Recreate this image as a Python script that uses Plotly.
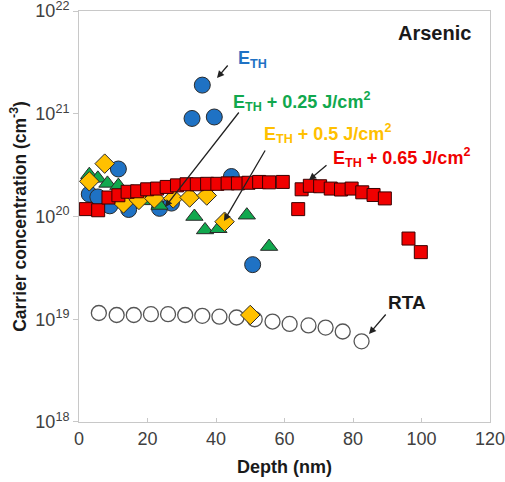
import plotly.graph_objects as go

# ---- data ----
rta_depth = [5.8, 11, 16, 21, 26, 31, 36, 41, 46, 51.3, 56.5, 61.5, 67, 72, 77, 82.5]
rta_conc = [1.15e19, 1.1e19, 1.1e19, 1.12e19, 1.12e19, 1.1e19, 1.08e19, 1.06e19, 1.04e19,
            1.0e19, 0.95e19, 0.9e19, 0.87e19, 0.83e19, 0.76e19, 0.61e19]

eth_depth = [3, 5.5, 9, 11.5, 14.5, 23.5, 27, 33, 36, 39.5, 44.5, 50.7]
eth_conc = [1.65e20, 1.55e20, 1.27e20, 2.9e20, 1.17e20, 1.2e20, 1.35e20, 9.0e20, 1.9e21,
            9.3e20, 2.45e20, 3.4e19]

e025_depth = [3, 5.5, 8.3, 11.5, 19.8, 23.5, 33.7, 36.8, 40.7, 49, 55.5]
e025_conc = [2.55e20, 2.35e20, 2.1e20, 2.0e20, 1.42e20, 1.28e20, 1.0e20, 0.74e20, 0.76e20,
             1.03e20, 0.51e20]

e05_depth = [3, 7.5, 13, 17.5, 22, 27.5, 32.3, 37.3, 42.5, 50]
e05_conc = [2.2e20, 3.27e20, 1.34e20, 1.45e20, 1.5e20, 1.5e20, 1.53e20, 1.6e20, 0.89e20, 1.1e19]

e065_depth = [2, 5.6, 8.6, 11.5, 14.2, 17, 19.9, 22.8, 25.6, 28.6, 31.4, 34.4, 37.4, 40.4,
              43.4, 46.4, 49.5, 52.6, 55.5, 59.5, 64, 65, 67.4, 70.4, 73.5, 76.5, 79.6,
              82.7, 86, 89.3, 96.2, 99.8]
e065_conc = [1.18e20, 1.15e20, 1.53e20, 1.61e20, 1.74e20, 1.76e20, 1.84e20, 1.87e20, 1.94e20,
             2.01e20, 2.06e20, 2.06e20, 2.08e20, 2.08e20, 2.1e20, 2.1e20, 2.13e20, 2.17e20,
             2.15e20, 2.17e20, 1.18e20, 1.84e20, 1.99e20, 1.97e20, 1.87e20, 1.83e20, 1.87e20,
             1.72e20, 1.62e20, 1.5e20, 0.61e20, 0.45e20]

x_ticks = [0, 20, 40, 60, 80, 100, 120]
y_ticks = [1e18, 1e19, 1e20, 1e21, 1e22]
y_tick_text = ["10<sup>18</sup>", "10<sup>19</sup>", "10<sup>20</sup>", "10<sup>21</sup>", "10<sup>22</sup>"]

BLUE = "#1F72C4"
GREEN = "#11A84E"
YELLOW = "#FFC000"
RED = "#F00000"
EDGE = "#2a2a2a"

fig = go.Figure()
fig.add_trace(go.Scatter(x=rta_depth, y=rta_conc, mode="markers", name="RTA",
                         marker=dict(symbol="circle", size=15, color="white",
                                     line=dict(color="#555555", width=1.3))))
fig.add_trace(go.Scatter(x=eth_depth, y=eth_conc, mode="markers", name="ETH",
                         marker=dict(symbol="circle", size=16, color=BLUE,
                                     line=dict(color=EDGE, width=1))))
fig.add_trace(go.Scatter(x=e025_depth, y=e025_conc, mode="markers", name="ETH+0.25",
                         marker=dict(symbol="triangle-up", size=15, color=GREEN,
                                     line=dict(color=EDGE, width=1))))
fig.add_trace(go.Scatter(x=e05_depth, y=e05_conc, mode="markers", name="ETH+0.5",
                         marker=dict(symbol="diamond", size=15, color=YELLOW,
                                     line=dict(color=EDGE, width=1))))
fig.add_trace(go.Scatter(x=e065_depth, y=e065_conc, mode="markers", name="ETH+0.65",
                         marker=dict(symbol="square", size=13, color=RED,
                                     line=dict(color="#3a0000", width=1))))

L, R, T, B = 79, 15, 11, 60
W, H = 505, 482
PW, PH = W - L - R, H - T - B


def px(xp, yp):
    return (xp - L) / PW, (H - B - yp) / PH


annotations = []
# arrows: (head px, tail px)
arrows = [((217, 78), (229, 64)),
          ((165, 207), (240, 111)),
          ((224, 221), (266, 149)),
          ((309, 180), (328, 164)),
          ((369, 334), (387, 313))]
for (hx, hy), (tx, ty) in arrows:
    x0, y0 = px(hx, hy)
    annotations.append(dict(xref="paper", yref="paper", x=x0, y=y0, text="",
                            showarrow=True, ax=tx - hx, ay=ty - hy,
                            arrowhead=2, arrowsize=1.1, arrowwidth=1.3,
                            arrowcolor="#222222", standoff=0))

FONT = "Liberation Sans, Arial, sans-serif"
labels = [("E<sub>TH</sub>", 236, 60, BLUE, 18),
          ("E<sub>TH</sub> + 0.25 J/cm<sup>2</sup>", 231, 102, GREEN, 18),
          ("E<sub>TH</sub> + 0.5 J/cm<sup>2</sup>", 262, 133, YELLOW, 18),
          ("E<sub>TH</sub> + 0.65 J/cm<sup>2</sup>", 331, 157, RED, 18),
          ("RTA", 386, 302, "#1a1a1a", 19),
          ("Arsenic", 396, 33, "#1a1a1a", 20)]
for txt, xp, yp, col, fs in labels:
    x0, y0 = px(xp, yp)
    annotations.append(dict(xref="paper", yref="paper", x=x0, y=y0, text="<b>" + txt + "</b>",
                            showarrow=False, xanchor="left", yanchor="middle",
                            font=dict(family=FONT, size=fs, color=col)))

fig.update_layout(
    width=W, height=H,
    margin=dict(l=L, r=R, t=T, b=B, autoexpand=False),
    paper_bgcolor="white", plot_bgcolor="white",
    showlegend=False,
    font=dict(family=FONT, color="#404040"),
    annotations=annotations,
    xaxis=dict(range=[0, 120], tickvals=x_ticks, showgrid=False, zeroline=False,
               automargin=False, ticklabeloverflow="allow",
               showline=True, linecolor="#c8c8c8", linewidth=1, mirror=True,
               ticks="inside", ticklen=4, tickcolor="#c8c8c8",
               tickfont=dict(size=18, color="#404040"),
               title=dict(text="<b>Depth (nm)</b>", font=dict(size=18, color="#1a1a1a"), standoff=12)),
    yaxis=dict(type="log", range=[17.9999, 22.0001], tickvals=y_ticks, ticktext=y_tick_text,
               showgrid=False, zeroline=False, automargin=False, ticklabeloverflow="allow",
               showline=True, linecolor="#c8c8c8", linewidth=1, mirror=True,
               ticks="outside", ticklen=5, tickcolor="#c8c8c8",
               tickfont=dict(size=18, color="#404040"),
               title=dict(text="<b>Carrier concentration (cm<sup>-3</sup>)</b>",
                          font=dict(size=17.5, color="#1a1a1a"), standoff=4)),
)

fig.write_html("out.html", config={"displayModeBar": False},
               post_script="document.body.style.margin='0';document.body.style.padding='0';")
